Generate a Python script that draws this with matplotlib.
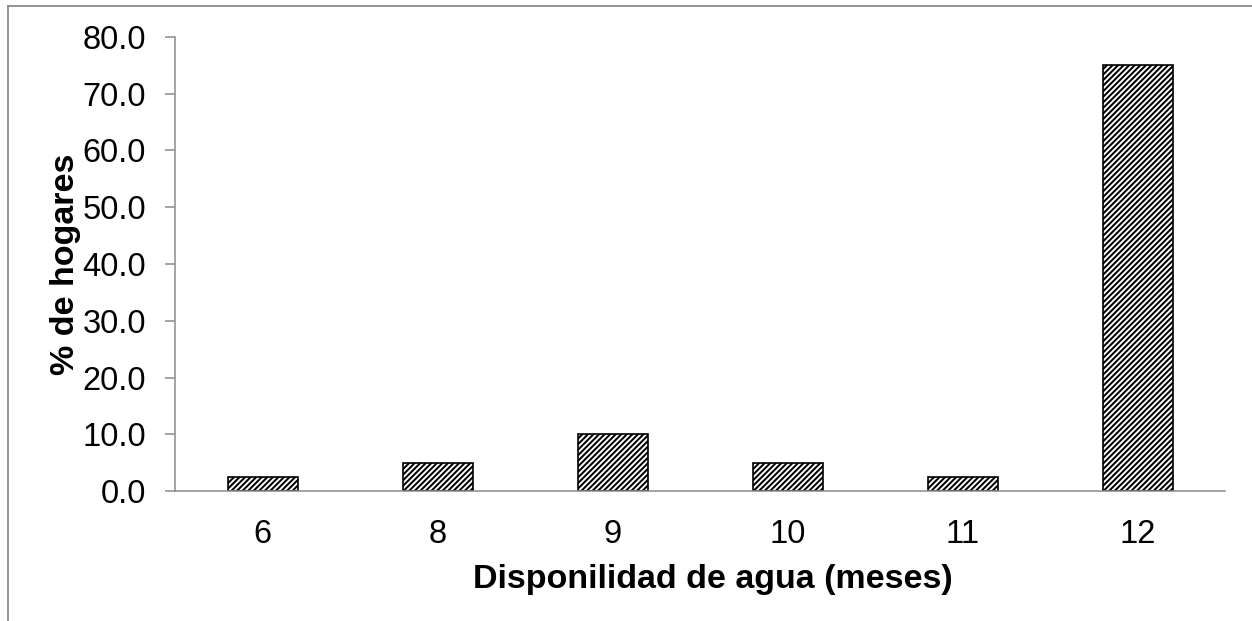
import matplotlib
matplotlib.use("Agg")
from matplotlib import pyplot as plt
from matplotlib.lines import Line2D

meses = ["6", "8", "9", "10", "11", "12"]
hogares = [2.5, 5.0, 10.0, 5.0, 2.5, 75.0]
yticks = [0, 10, 20, 30, 40, 50, 60, 70, 80]

plt.rcParams["font.family"] = ["Liberation Sans", "DejaVu Sans"]
plt.rcParams["hatch.linewidth"] = 1.45
plt.rcParams["hatch.color"] = "black"

gris = "#8a8a8a"

fig = plt.figure(figsize=(12.52, 6.21), dpi=100)
ax = fig.add_axes([175 / 1252, 130 / 621, 1050 / 1252, 454 / 621])

x = range(len(meses))
ax.bar(x, hogares, width=0.4, color="white", edgecolor="black",
       linewidth=1.2, hatch="//////")

ax.set_xlim(-0.5, len(meses) - 0.5)
ax.set_ylim(0, 80)
ax.set_xticks(list(x))
ax.set_xticklabels(meses)
ax.set_yticks(yticks)
ax.set_yticklabels(["%.1f" % v for v in yticks])
ax.tick_params(axis="x", length=0, labelsize=23.5, pad=20)
ax.tick_params(axis="y", length=7, width=1.1, color=gris, labelsize=23.5, pad=14)

for s in ["top", "right"]:
    ax.spines[s].set_visible(False)
for s in ["left", "bottom"]:
    ax.spines[s].set_color(gris)
    ax.spines[s].set_linewidth(1.1)

ax.set_xlabel("Disponilidad de agua (meses)", fontsize=24.5, fontweight="bold", labelpad=10)
ax.xaxis.label.set_x(0.512)
ax.set_ylabel("% de hogares", fontsize=24.5, fontweight="bold", labelpad=1)

# marco exterior (recortado)
fig.add_artist(Line2D([8 / 1252, 8 / 1252], [0, 615 / 621], color=gris, lw=1.3,
                      transform=fig.transFigure))
fig.add_artist(Line2D([8 / 1252, 1], [615 / 621, 615 / 621], color=gris, lw=1.3,
                      transform=fig.transFigure))

plt.savefig("out.png", dpi=100)
